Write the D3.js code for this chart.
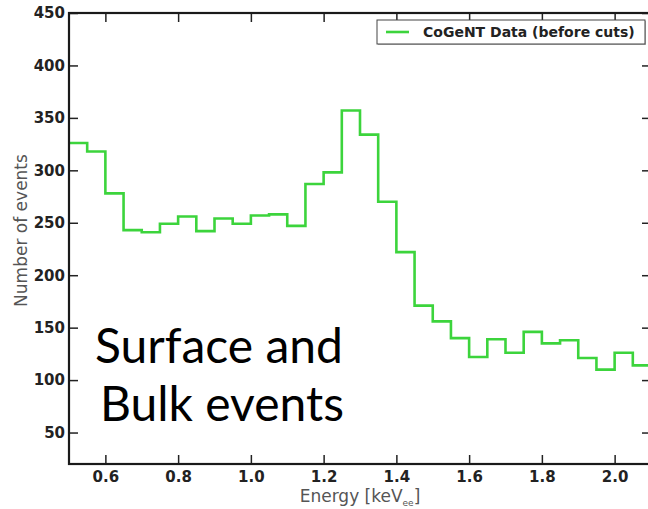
<!DOCTYPE html>
<html>
<head>
<meta charset="utf-8">
<script src="https://cdn.jsdelivr.net/npm/d3@7"></script>
<style>
  body { margin: 0; background: #fff; }
  svg { display: block; }
</style>
</head>
<body>
<script>
// bin edges in keV (33 edges -> 32 bins) and the counts per bin
var binEdges = [0.50, 0.55, 0.60, 0.65, 0.70, 0.75, 0.80, 0.85, 0.90, 0.95, 1.00,
                1.05, 1.10, 1.15, 1.20, 1.25, 1.30, 1.35, 1.40, 1.45, 1.50, 1.55,
                1.60, 1.65, 1.70, 1.75, 1.80, 1.85, 1.90, 1.95, 2.00, 2.05, 2.10];
var counts = [326, 318, 278, 243, 241, 249, 256, 242, 254, 249, 257,
              258, 247, 287, 298, 357, 334, 270, 222, 171, 156, 140,
              122, 139, 126, 146, 135, 138, 121, 110, 126, 114];
var xTicks = [0.6, 0.8, 1.0, 1.2, 1.4, 1.6, 1.8, 2.0];
var yTicks = [50, 100, 150, 200, 250, 300, 350, 400, 450];
var seriesName = "CoGeNT Data (before cuts)";

var W = 648, H = 509;
var margin = {top: 13, right: -3, bottom: 45, left: 69},
    width = W - margin.left - margin.right,
    height = H - margin.top - margin.bottom;

var green = "#3cd43c";

var svg = d3.select("body").append("svg")
    .attr("width", W)
    .attr("height", H);

var g = svg.append("g")
    .attr("transform", "translate(" + margin.left + "," + margin.top + ")");

var x = d3.scaleLinear().domain([0.5, 2.1]).range([0, width]);
var y = d3.scaleLinear().domain([20, 450]).range([height, 0]);

g.append("clipPath").attr("id", "clip")
  .append("rect").attr("width", width).attr("height", height);

// step histogram
var pts = binEdges.map(function(e, i) {
    return {e: e, c: counts[Math.min(i, counts.length - 1)]};
});
var line = d3.line()
    .curve(d3.curveStepAfter)
    .x(function(d) { return x(d.e); })
    .y(function(d) { return y(d.c); });

g.append("path")
    .datum(pts)
    .attr("clip-path", "url(#clip)")
    .attr("fill", "none")
    .attr("stroke", green)
    .attr("stroke-width", 2.6)
    .attr("d", line);

// axes (ticks point inward on all four sides)
function styleAxis(sel) {
    sel.select(".domain").remove();
    sel.selectAll(".tick line").attr("stroke", "#222").attr("stroke-width", 1.5);
    sel.selectAll(".tick text")
        .style("font-family", "DejaVu Sans")
        .style("font-weight", "bold")
        .style("font-size", "15px")
        .attr("fill", "#222");
}

g.append("g")
    .attr("transform", "translate(0," + height + ")")
    .call(d3.axisBottom(x).tickValues(xTicks).tickFormat(d3.format(".1f"))
        .tickSizeInner(-9).tickPadding(7))
    .call(styleAxis);

g.append("g")
    .call(d3.axisTop(x).tickValues(xTicks).tickFormat("").tickSizeInner(-9))
    .call(styleAxis);

g.append("g")
    .call(d3.axisLeft(y).tickValues(yTicks).tickFormat(d3.format("d"))
        .tickSizeInner(-9).tickPadding(4))
    .call(styleAxis);

g.append("g")
    .attr("transform", "translate(" + width + ",0)")
    .call(d3.axisRight(y).tickValues(yTicks).tickFormat("").tickSizeInner(-9))
    .call(styleAxis);

// frame
g.append("rect")
    .attr("width", width)
    .attr("height", height)
    .attr("fill", "none")
    .attr("stroke", "#1a1a1a")
    .attr("stroke-width", 2.2);

// axis titles
var xl = svg.append("text")
    .attr("x", margin.left + x(1.3))
    .attr("y", 502)
    .attr("text-anchor", "middle")
    .style("font-family", "DejaVu Sans")
    .style("font-size", "17px")
    .attr("fill", "#555");
xl.append("tspan").text("Energy [keV");
xl.append("tspan").attr("dy", 4).style("font-size", "9px").text("ee");
xl.append("tspan").attr("dy", -4).text("]");

svg.append("text")
    .attr("transform", "translate(27," + (margin.top + height / 2 - 8) + ") rotate(-90)")
    .attr("text-anchor", "middle")
    .style("font-family", "DejaVu Sans")
    .style("font-size", "17px")
    .attr("fill", "#555")
    .text("Number of events");

// legend
var leg = svg.append("g").attr("transform", "translate(377,20)");
leg.append("rect")
    .attr("x", 1).attr("y", 1)
    .attr("width", 268).attr("height", 24)
    .attr("fill", "#bbb");
leg.append("rect")
    .attr("width", 268).attr("height", 24)
    .attr("fill", "#fff")
    .attr("stroke", "#444")
    .attr("stroke-width", 1);
leg.append("line")
    .attr("x1", 9).attr("x2", 32)
    .attr("y1", 12).attr("y2", 12)
    .attr("stroke", green).attr("stroke-width", 2.6);
leg.append("text")
    .attr("x", 46).attr("y", 17)
    .style("font-family", "DejaVu Sans")
    .style("font-weight", "bold")
    .style("font-size", "14px")
    .attr("fill", "#222")
    .text(seriesName);

// annotation
var note = svg.append("text")
    .attr("text-anchor", "middle")
    .style("font-family", "Lato")
    .style("font-size", "48px")
    .attr("fill", "#000");
note.append("tspan").attr("x", 219).attr("y", 363).text("Surface and");
note.append("tspan").attr("x", 222).attr("y", 421).text("Bulk events");
</script>
</body>
</html>
